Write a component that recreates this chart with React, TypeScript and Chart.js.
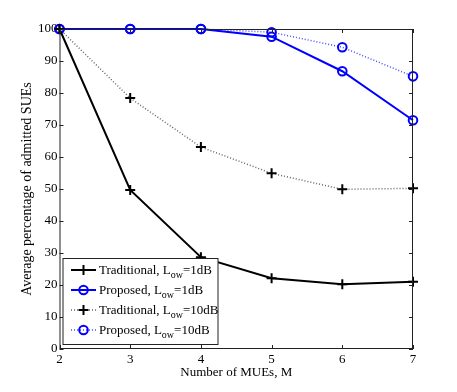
import React, { useEffect, useRef } from "react";
import { Chart, registerables } from "chart.js";

Chart.register(...registerables);

const xValues = [2, 3, 4, 5, 6, 7];
const traditional1dB = [100, 49.7, 28.7, 22.1, 20.2, 21.0];
const proposed1dB = [100, 100, 100, 97.6, 86.8, 71.5];
const traditional10dB = [100, 78.4, 63.1, 54.9, 49.9, 50.2];
const proposed10dB = [100, 100, 100, 99.0, 94.3, 85.2];

const legendLabels = [
  { pre: "Traditional, L", sub: "ow", post: "=1dB" },
  { pre: "Proposed, L", sub: "ow", post: "=1dB" },
  { pre: "Traditional, L", sub: "ow", post: "=10dB" },
  { pre: "Proposed, L", sub: "ow", post: "=10dB" },
];

const FONT = "Liberation Serif, Times New Roman, serif";

const toPts = (ys: number[]) => xValues.map((x, i) => ({ x, y: ys[i] }));

const framePlugin = {
  id: "frameAndLegend",
  afterDatasetsDraw(chart: any) {
    const { ctx, chartArea } = chart;
    const { left, right, top, bottom } = chartArea;
    const xs = chart.scales.x;
    const ys = chart.scales.y;
    ctx.save();
    ctx.strokeStyle = "#222";
    ctx.lineWidth = 1;
    ctx.strokeRect(left + 0.5, top + 0.5, right - left - 1, bottom - top - 1);
    const tl = 4;
    ctx.beginPath();
    for (let v = 2; v <= 7; v++) {
      const px = Math.round(xs.getPixelForValue(v)) + 0.5;
      ctx.moveTo(px, bottom);
      ctx.lineTo(px, bottom - tl);
      ctx.moveTo(px, top);
      ctx.lineTo(px, top + tl);
    }
    for (let v = 0; v <= 100; v += 10) {
      const py = Math.round(ys.getPixelForValue(v)) + 0.5;
      ctx.moveTo(left, py);
      ctx.lineTo(left + tl, py);
      ctx.moveTo(right, py);
      ctx.lineTo(right - tl, py);
    }
    ctx.stroke();

    const bx = left + 3.5;
    const by = 258.5;
    const bw = 155;
    const bh = 86;
    ctx.fillStyle = "#fff";
    ctx.fillRect(bx, by, bw, bh);
    ctx.strokeStyle = "#222";
    ctx.lineWidth = 1;
    ctx.strokeRect(bx, by, bw, bh);
    const rowYs = [270, 290, 310, 330];
    chart.data.datasets.forEach((ds: any, i: number) => {
      const y = rowYs[i];
      const x0 = bx + 8;
      const x1 = bx + 33;
      ctx.save();
      ctx.strokeStyle = ds.borderColor;
      ctx.lineWidth = ds.borderWidth;
      ctx.setLineDash(ds.borderDash || []);
      ctx.beginPath();
      ctx.moveTo(x0, y);
      ctx.lineTo(x1, y);
      ctx.stroke();
      ctx.restore();
      ctx.save();
      ctx.strokeStyle = ds.pointBorderColor;
      ctx.lineWidth = ds.pointBorderWidth;
      const cx = (x0 + x1) / 2;
      const r = ds.pointRadius;
      ctx.beginPath();
      if (ds.pointStyle === "cross") {
        ctx.moveTo(cx - r, y);
        ctx.lineTo(cx + r, y);
        ctx.moveTo(cx, y - r);
        ctx.lineTo(cx, y + r);
      } else {
        ctx.arc(cx, y, r, 0, Math.PI * 2);
      }
      ctx.stroke();
      ctx.restore();
      const lab = legendLabels[i];
      ctx.fillStyle = "#000";
      ctx.textBaseline = "alphabetic";
      ctx.textAlign = "left";
      let tx = bx + 36;
      ctx.font = `13px ${FONT}`;
      ctx.fillText(lab.pre, tx, y + 4);
      tx += ctx.measureText(lab.pre).width;
      ctx.font = `10px ${FONT}`;
      ctx.fillText(lab.sub, tx, y + 8);
      tx += ctx.measureText(lab.sub).width;
      ctx.font = `13px ${FONT}`;
      ctx.fillText(lab.post, tx, y + 4);
    });
    ctx.restore();
  },
};

export default function App() {
  const ref = useRef<HTMLCanvasElement>(null);
  useEffect(() => {
    if (!ref.current) return;
    const chart = new Chart(ref.current, {
      type: "line",
      data: {
        datasets: [
          {
            label: "Traditional, Low=1dB",
            data: toPts(traditional1dB),
            borderColor: "#000",
            borderWidth: 2,
            pointStyle: "cross",
            pointRadius: 5,
            pointBorderColor: "#000",
            pointBorderWidth: 2,
            pointBackgroundColor: "rgba(0,0,0,0)",
            clip: false,
          },
          {
            label: "Proposed, Low=1dB",
            data: toPts(proposed1dB),
            borderColor: "#0000ff",
            borderWidth: 2,
            pointStyle: "circle",
            pointRadius: 4.3,
            pointBorderColor: "#0000ff",
            pointBorderWidth: 2,
            pointBackgroundColor: "rgba(0,0,0,0)",
            clip: false,
          },
          {
            label: "Traditional, Low=10dB",
            data: toPts(traditional10dB),
            borderColor: "#666",
            borderWidth: 1.5,
            borderDash: [1, 2],
            pointStyle: "cross",
            pointRadius: 5,
            pointBorderColor: "#000",
            pointBorderWidth: 2,
            pointBackgroundColor: "rgba(0,0,0,0)",
            clip: false,
          },
          {
            label: "Proposed, Low=10dB",
            data: toPts(proposed10dB),
            borderColor: "#4a4aff",
            borderWidth: 1.5,
            borderDash: [1, 2],
            pointStyle: "circle",
            pointRadius: 4.3,
            pointBorderColor: "#0000ff",
            pointBorderWidth: 2,
            pointBackgroundColor: "rgba(0,0,0,0)",
            clip: false,
          },
        ] as any,
      },
      options: {
        animation: false,
        responsive: false,
        events: [],
        layout: { padding: { left: 0, top: 29, right: 44, bottom: 0 } },
        plugins: { legend: { display: false }, tooltip: { enabled: false } },
        scales: {
          x: {
            type: "linear",
            min: 2,
            max: 7,
            grid: { display: false, drawTicks: false },
            border: { display: false },
            ticks: {
              stepSize: 1,
              padding: 3,
              color: "#000",
              font: { family: FONT, size: 13 },
            },
            title: {
              display: true,
              text: "Number of MUEs, M",
              color: "#000",
              font: { family: FONT, size: 13 },
              padding: { top: 0, bottom: 12 },
            },
            afterFit(scale: any) {
              scale.height = 43;
            },
          },
          y: {
            min: 0,
            max: 100,
            grid: { display: false, drawTicks: false },
            border: { display: false },
            ticks: {
              stepSize: 10,
              padding: 2,
              color: "#000",
              font: { family: FONT, size: 13 },
            },
            title: {
              display: true,
              text: "Average percentage of admitted SUEs",
              color: "#000",
              font: { family: FONT, size: 14 },
              padding: { top: 19, bottom: 0 },
            },
            afterFit(scale: any) {
              scale.width = 59.5;
            },
          },
        },
      },
      plugins: [framePlugin],
    });
    return () => chart.destroy();
  }, []);
  return (
    <canvas
      ref={ref}
      width={457}
      height={392}
      style={{ position: "absolute", left: 0, top: 0, display: "block", background: "#fff" }}
    />
  );
}
